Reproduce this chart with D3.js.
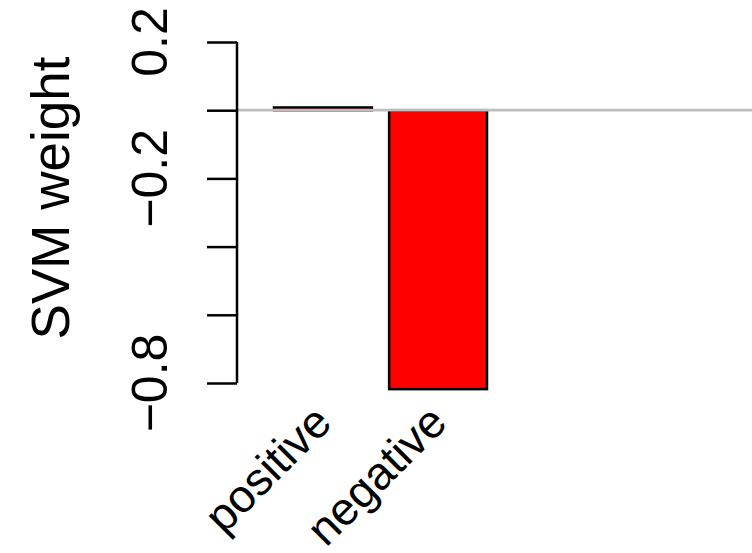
<!DOCTYPE html>
<html>
<head>
<meta charset="utf-8">
<script src="https://cdn.jsdelivr.net/npm/d3@7"></script>
<style>
  html, body { margin: 0; padding: 0; background: #fff; }
  svg { display: block; }
  text { font-family: "Liberation Sans", Arial, sans-serif; fill: #000; }
</style>
</head>
<body>
<svg id="chart" width="752" height="553"></svg>
<script>
// ---- data ----
const categories = ["positive", "negative"];
const weights = [0.008, -0.818];
const barColors = ["#FF0000", "#FF0000"];
const tickValues = [0.2, 0, -0.2, -0.4, -0.6, -0.8];
const tickLabels = ["0.2", "", "\u22120.2", "", "", "\u22120.8"];
const yTitle = "SVM weight";

// ---- layout ----
const W = 752, H = 553;
const svg = d3.select("#chart");

const y = d3.scaleLinear().domain([-0.8, 0.2]).range([383, 42]);
const x = d3.scaleBand().domain(categories).range([274, 487]).paddingInner(0.15).paddingOuter(0);
const axisX = 237;

// bars
svg.append("g").selectAll("rect").data(categories).join("rect")
  .attr("x", d => x(d))
  .attr("width", x.bandwidth())
  .attr("y", (d, i) => y(Math.max(0, weights[i])))
  .attr("height", (d, i) => Math.abs(y(weights[i]) - y(0)))
  .attr("fill", (d, i) => barColors[i])
  .attr("stroke", "#000")
  .attr("stroke-width", 2.5);

// zero line
svg.append("line")
  .attr("x1", axisX).attr("x2", W)
  .attr("y1", y(0)).attr("y2", y(0))
  .attr("stroke", "#BEBEBE").attr("stroke-width", 2.8);

// y axis
const yAxis = d3.axisLeft(y)
  .tickValues(tickValues)
  .tickSize(30)
  .tickPadding(0)
  .tickFormat(() => "");
const ga = svg.append("g").attr("transform", `translate(${axisX},0)`).call(yAxis);
ga.select(".domain").attr("d", `M-0,${y(0.2)}H0V${y(-0.8)}H-0`).attr("stroke", "#000").attr("stroke-width", 2.5);
ga.selectAll(".tick line").attr("stroke", "#000").attr("stroke-width", 2.5);

// tick labels (rotated)
svg.append("g").selectAll("text").data(tickValues).join("text")
  .attr("transform", d => `translate(167,${y(d)}) rotate(-90)`)
  .attr("text-anchor", "middle")
  .style("font-size", "50px")
  .text((d, i) => tickLabels[i]);

// y title
svg.append("text")
  .attr("transform", `translate(69,198) rotate(-90)`)
  .attr("text-anchor", "middle")
  .style("font-size", "53px")
  .text(yTitle);

// category labels
svg.append("g").selectAll("text").data(categories).join("text")
  .attr("transform", d => `translate(${x(d) + x.bandwidth() / 2 + 11},425) rotate(-45)`)
  .attr("text-anchor", "end")
  .style("font-size", "46px")
  .text(d => d);
</script>
</body>
</html>
